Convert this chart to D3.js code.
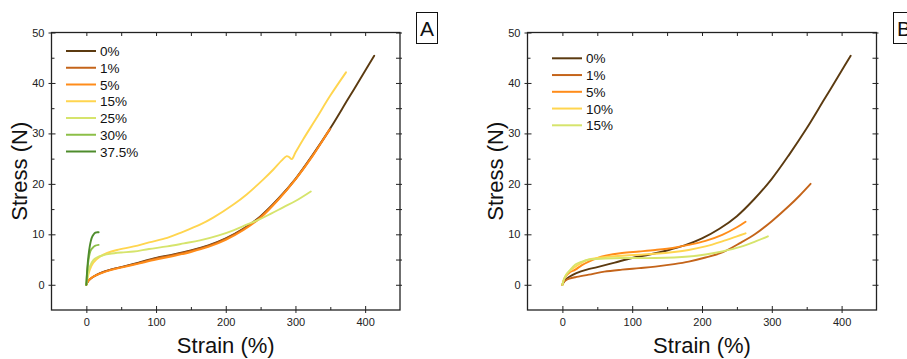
<!DOCTYPE html>
<html>
<head>
<meta charset="utf-8">
<script src="https://cdn.jsdelivr.net/npm/d3@7"></script>
<style>
  html, body { margin: 0; padding: 0; background: #fff; }
  svg { display: block; font-family: "Liberation Sans", Arial, sans-serif; }
</style>
</head>
<body>
<svg id="chart" width="907" height="359"></svg>
<script>
// ---- Tensile curves (strain in %, stress in N) ----
// Neat sample, shared by both panels
const strain0 = [0, 2, 5, 10, 20, 35, 50, 75, 100, 125, 150, 175, 200, 225, 250, 275, 300, 325, 350, 375, 400, 413];
const stress0 = [0, 0.6, 1.1, 1.6, 2.3, 3.0, 3.5, 4.4, 5.3, 6.0, 6.8, 7.8, 9.2, 11.1, 13.6, 17.0, 21.0, 25.8, 31.0, 36.7, 42.4, 45.4];

// Panel A
const strainA1 = [0, 2, 5, 10, 20, 35, 50, 75, 100, 125, 150, 175, 200, 225, 250, 275, 300, 325, 350];
const stressA1 = [0, 0.6, 1.1, 1.6, 2.3, 3.0, 3.5, 4.3, 5.2, 5.9, 6.7, 7.7, 9.1, 11.0, 13.5, 16.9, 20.9, 25.7, 30.9];
const strainA5 = [0, 2, 5, 10, 20, 35, 50, 75, 100, 125, 150, 175, 200, 225, 250, 275, 300, 325, 348.6];
const stressA5 = [0, 0.6, 1.1, 1.6, 2.2, 2.9, 3.4, 4.2, 5.0, 5.7, 6.5, 7.5, 8.9, 10.8, 13.3, 16.8, 20.9, 25.6, 30.75];
const strainA15 = [0, 2, 5, 10, 20, 30, 44, 68, 90, 116, 135, 163, 182, 211, 230, 254, 268, 280, 287.5, 291, 294.7, 300, 311, 330, 350, 372.5];
const stressA15 = [0, 1.5, 3.0, 4.4, 5.6, 6.3, 6.9, 7.6, 8.4, 9.3, 10.3, 11.9, 13.3, 15.9, 17.9, 20.9, 22.8, 24.6, 25.5, 25.3, 24.9, 26.2, 28.8, 33.0, 37.5, 42.1];
const strainA25 = [0, 2, 5, 10, 15, 25, 34, 50, 68, 90, 116, 140, 163, 190, 211, 230, 249, 265, 283, 300, 322];
const stressA25 = [0, 1.8, 3.6, 4.9, 5.4, 5.9, 6.15, 6.4, 6.6, 7.1, 7.6, 8.2, 8.8, 9.8, 10.8, 11.9, 13.0, 14.1, 15.4, 16.6, 18.5];
const strainA30 = [0, 1, 2, 3, 5, 7, 9.5, 13, 17.6];
const stressA30 = [0, 2.2, 3.6, 4.8, 6.3, 7.0, 7.4, 7.75, 7.9];
const strainA37 = [0, 1, 2, 3, 5, 6.5, 8, 10, 13, 17.6];
const stressA37 = [0, 2.5, 4.3, 5.7, 7.7, 8.7, 9.4, 9.9, 10.35, 10.4];

// Panel B
const strainB1 = [0, 2, 5, 10, 18.6, 37.8, 60, 85.5, 110, 133, 160, 181, 205, 229, 255, 276.7, 300, 324.5, 340, 355.6];
const stressB1 = [0, 0.5, 0.9, 1.2, 1.5, 2.0, 2.6, 3.0, 3.3, 3.6, 4.1, 4.6, 5.4, 6.4, 8.3, 10.1, 12.6, 15.6, 17.7, 20.0];
const strainB5 = [0, 2, 5, 10, 18.6, 28, 37.8, 50, 61.6, 85.5, 110, 133, 160, 181, 205, 229, 250, 262.4];
const stressB5 = [0, 0.9, 1.7, 2.4, 3.0, 3.9, 4.6, 5.3, 5.75, 6.3, 6.6, 6.9, 7.35, 7.9, 8.7, 9.9, 11.4, 12.5];
const strainB10 = [0, 2, 5, 10, 18.6, 28, 37.8, 61.6, 85.5, 110, 133, 160, 181, 205, 229, 250, 262.4];
const stressB10 = [0, 1.0, 1.9, 2.7, 3.6, 4.4, 5.0, 5.5, 5.75, 5.95, 6.15, 6.5, 6.9, 7.6, 8.6, 9.6, 10.2];
const strainB15 = [0, 2, 5, 9, 18.6, 28, 37.8, 61.6, 85.5, 133, 181, 205, 229, 255, 276.7, 294.4];
const stressB15 = [0, 1.0, 1.9, 2.6, 4.0, 4.6, 5.0, 5.2, 5.3, 5.3, 5.6, 6.0, 6.6, 7.5, 8.6, 9.6];

// Legend labels and axis ticks
const labelsA = ["0%", "1%", "5%", "15%", "25%", "30%", "37.5%"];
const labelsB = ["0%", "1%", "5%", "10%", "15%"];
const xTicks = [0, 100, 200, 300, 400];
const xMinorTicks = [-50, 50, 150, 250, 350, 450];
const yTicks = [0, 10, 20, 30, 40, 50];
const yMinorTicks = [-5, 5, 15, 25, 35, 45];
const xDomain = [-50, 450];
const yDomain = [-5, 50];

const zip = (xs, ys) => xs.map((x, i) => [x, ys[i]]);

const colors = {
  c0: "#5b3a10",
  c1: "#c4641a",
  c5: "#ff8c1a",
  cY: "#ffd54f",
  cYG: "#d6e46c",
  c30: "#8cbf48",
  c37: "#4e8c2c"
};

const seriesA = [
  { label: labelsA[0], color: colors.c0, pts: zip(strain0, stress0) },
  { label: labelsA[1], color: colors.c1, pts: zip(strainA1, stressA1) },
  { label: labelsA[2], color: colors.c5, pts: zip(strainA5, stressA5) },
  { label: labelsA[3], color: colors.cY, pts: zip(strainA15, stressA15) },
  { label: labelsA[4], color: colors.cYG, pts: zip(strainA25, stressA25) },
  { label: labelsA[5], color: colors.c30, pts: zip(strainA30, stressA30) },
  { label: labelsA[6], color: colors.c37, pts: zip(strainA37, stressA37) }
];
const seriesB = [
  { label: labelsB[0], color: colors.c0, pts: zip(strain0, stress0) },
  { label: labelsB[1], color: colors.c1, pts: zip(strainB1, stressB1) },
  { label: labelsB[2], color: colors.c5, pts: zip(strainB5, stressB5) },
  { label: labelsB[3], color: colors.cY, pts: zip(strainB10, stressB10) },
  { label: labelsB[4], color: colors.cYG, pts: zip(strainB15, stressB15) }
];

const svg = d3.select("#chart");
const axisColor = "#222";

function drawPanel(opt) {
  const { left, right, top, bottom, series, legendX, legendY, tag, tagBox } = opt;
  const x = d3.scaleLinear().domain(xDomain).range([left, right]);
  const y = d3.scaleLinear().domain(yDomain).range([bottom, top]);
  const g = svg.append("g");

  // curves (centripetal Catmull-Rom keeps them smooth through the measured points)
  const line = d3.line().x(d => x(d[0])).y(d => y(d[1])).curve(d3.curveCatmullRom.alpha(0.5));
  series.forEach(s => {
    g.append("path").attr("d", line(s.pts))
      .attr("fill", "none").attr("stroke", s.color)
      .attr("stroke-width", 1.9).attr("stroke-linecap", "round").attr("stroke-linejoin", "round");
  });

  // axes with major ticks (out 3, in 4) and minor ticks (in 3)
  const tickStyle = sel => {
    sel.select(".domain").remove();
    sel.selectAll("line").attr("stroke", axisColor).attr("stroke-width", 1);
    sel.selectAll("text").attr("fill", "#222").style("font-size", "11px")
      .style("font-family", "'Liberation Sans', Arial, sans-serif");
  };
  const xMinorIn = xMinorTicks.filter(v => v > xDomain[0] && v < xDomain[1]);
  const yMinorIn = yMinorTicks.filter(v => v > yDomain[0] && v < yDomain[1]);
  // bottom
  g.append("g").attr("transform", `translate(0,${bottom})`)
    .call(d3.axisBottom(x).tickValues(xTicks).tickSize(3).tickPadding(5).tickFormat(d3.format("d")))
    .call(tickStyle)
    .call(a => a.selectAll(".tick line").attr("y1", -4).attr("y2", 3));
  g.append("g").attr("transform", `translate(0,${bottom})`)
    .call(d3.axisBottom(x).tickValues(xMinorIn).tickSize(0).tickFormat(""))
    .call(tickStyle)
    .call(a => a.selectAll(".tick line").attr("y1", -3).attr("y2", 0));
  // top
  g.append("g").attr("transform", `translate(0,${top})`)
    .call(d3.axisTop(x).tickValues(xTicks.concat(xMinorIn)).tickSize(0).tickFormat(""))
    .call(tickStyle)
    .call(a => a.selectAll(".tick line").attr("y1", 0).attr("y2", 3.5));
  // left
  g.append("g").attr("transform", `translate(${left},0)`)
    .call(d3.axisLeft(y).tickValues(yTicks).tickSize(3).tickPadding(4).tickFormat(d3.format("d")))
    .call(tickStyle)
    .call(a => a.selectAll(".tick line").attr("x1", -3).attr("x2", 4));
  g.append("g").attr("transform", `translate(${left},0)`)
    .call(d3.axisLeft(y).tickValues(yMinorIn).tickSize(0).tickFormat(""))
    .call(tickStyle)
    .call(a => a.selectAll(".tick line").attr("x1", 0).attr("x2", 3));
  // right
  g.append("g").attr("transform", `translate(${right},0)`)
    .call(d3.axisRight(y).tickValues(yTicks.concat(yMinorIn)).tickSize(0).tickFormat(""))
    .call(tickStyle)
    .call(a => a.selectAll(".tick line").attr("x1", -4).attr("x2", 2));

  // frame
  g.append("rect").attr("x", left).attr("y", top)
    .attr("width", right - left).attr("height", bottom - top)
    .attr("fill", "none").attr("stroke", axisColor).attr("stroke-width", 1.3);

  // axis titles
  g.append("text").attr("x", (left + right) / 2).attr("y", 353)
    .attr("text-anchor", "middle").style("font-size", "22px").attr("fill", "#111")
    .text("Strain (%)");
  g.append("text")
    .attr("transform", `translate(${left - 25},${(top + bottom) / 2}) rotate(-90)`)
    .attr("text-anchor", "middle").style("font-size", "22px").attr("fill", "#111")
    .text("Stress (N)");

  // legend
  const rowH = 16.75;
  series.forEach((s, i) => {
    const yy = legendY + i * rowH;
    g.append("line").attr("x1", legendX).attr("x2", legendX + 30)
      .attr("y1", yy).attr("y2", yy)
      .attr("stroke", s.color).attr("stroke-width", 2);
    g.append("text").attr("x", legendX + 34).attr("y", yy + 5)
      .style("font-size", "13.5px").attr("fill", "#111").text(s.label);
  });

  // panel tag
  g.append("rect").attr("x", tagBox[0]).attr("y", tagBox[1])
    .attr("width", tagBox[2]).attr("height", tagBox[3])
    .attr("fill", "#fff").attr("stroke", "#111").attr("stroke-width", 1);
  g.append("text").attr("x", tagBox[0] + tagBox[2] / 2).attr("y", tagBox[1] + 23.5)
    .attr("text-anchor", "middle").style("font-size", "21px").attr("fill", "#111").text(tag);
}

drawPanel({
  left: 51.5, right: 400, top: 32.5, bottom: 310,
  series: seriesA, legendX: 66, legendY: 51, tag: "A",
  tagBox: [416.5, 12.5, 21, 31]
});
drawPanel({
  left: 527.5, right: 876.5, top: 32.5, bottom: 310,
  series: seriesB, legendX: 552, legendY: 58.3, tag: "B",
  tagBox: [893.5, 12.5, 21, 31]
});
</script>
</body>
</html>
